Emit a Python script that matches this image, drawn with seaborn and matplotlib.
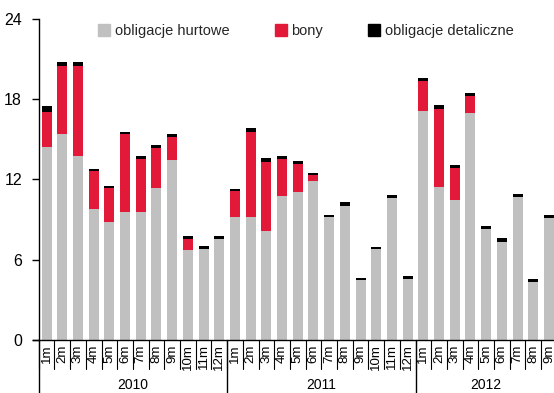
import matplotlib
matplotlib.use("Agg")
import matplotlib.pyplot as plt
import matplotlib.transforms as mtransforms
from matplotlib.lines import Line2D
import numpy as np
import pandas as pd
import seaborn as sns

# Monthly issuance of treasury securities, 2010-2012
years = ["2010", "2011", "2012"]
months_per_year = [12, 12, 9]
month_labels = [f"{m}m" for n in months_per_year for m in range(1, n + 1)]

hurtowe = [14.45, 15.40, 13.78, 9.80, 8.83, 9.57, 9.57, 11.37, 13.46, 6.76, 6.81, 7.56,
           9.20, 9.20, 8.16, 10.78, 11.07, 11.89, 9.20, 10.04, 4.50, 6.81, 10.62, 4.57,
           17.11, 11.45, 10.47, 16.96, 8.31, 7.34, 10.70, 4.35, 9.13]
bony = [2.59, 5.07, 6.69, 2.83, 2.54, 5.83, 3.96, 2.98, 1.71, 0.80, 0.00, 0.00,
        1.94, 6.34, 5.15, 2.75, 2.09, 0.45, 0.00, 0.00, 0.00, 0.00, 0.00, 0.00,
        2.24, 5.81, 2.39, 1.27, 0.00, 0.00, 0.00, 0.00, 0.00]
detaliczne = [0.44, 0.30, 0.30, 0.15, 0.15, 0.15, 0.25, 0.22, 0.23, 0.22, 0.23, 0.22,
              0.15, 0.30, 0.30, 0.25, 0.24, 0.15, 0.17, 0.28, 0.15, 0.15, 0.25, 0.23,
              0.22, 0.30, 0.22, 0.23, 0.22, 0.29, 0.22, 0.22, 0.24]

series_names = ["obligacje hurtowe", "bony", "obligacje detaliczne"]
colors = ["#C0C0C0", "#E3193A", "#000000"]

df = pd.DataFrame({
    "pos": list(range(len(month_labels))),
    "hurtowe": hurtowe,
    "bony": bony,
    "detaliczne": detaliczne,
})
df["level1"] = df["hurtowe"]
df["level2"] = df["hurtowe"] + df["bony"]
df["level3"] = df["level2"] + df["detaliczne"]

sns.set_theme(style="white")
plt.rcParams["font.family"] = ["Liberation Sans Narrow", "Liberation Sans", "DejaVu Sans"]

W, H = 554, 393
fig = plt.figure(figsize=(W / 100, H / 100), dpi=100)
slot = 15.7
left_px, zero_px, top_px = 38.7, 340.3, 18.6
ax = fig.add_axes([left_px / W, (H - zero_px) / H,
                   len(month_labels) * slot / W, (zero_px - top_px) / H])

order = list(range(len(month_labels)))
# stacked bars: draw cumulative totals from the top layer down
for col, c in [("level3", colors[2]), ("level2", colors[1]), ("level1", colors[0])]:
    sns.barplot(data=df, x="pos", y=col, order=order, color=c, width=0.64,
                saturation=1, ax=ax, linewidth=0, errorbar=None)

ax.set_xlim(-0.5, len(month_labels) - 0.5)
ax.set_ylim(0, 24)
ax.set_yticks([0, 6, 12, 18, 24])
ax.set_xlabel("")
ax.set_ylabel("")
ax.set_xticks(order)
ax.set_xticklabels(month_labels, rotation=90, fontsize=9.5, va="top")
ax.tick_params(axis="x", length=0, pad=3, colors="#000000")
ax.tick_params(axis="y", length=5, width=1, direction="out", labelsize=11.5,
               pad=7, colors="#000000", left=True)

for s in ["top", "right"]:
    ax.spines[s].set_visible(False)
for s in ["left", "bottom"]:
    ax.spines[s].set_color("#000000")
    ax.spines[s].set_linewidth(1)
ax.spines["bottom"].set_bounds(-0.5 - 5.5 / slot, len(month_labels) - 0.5)

trans = mtransforms.blended_transform_factory(ax.transData, ax.transAxes)
ax_h = zero_px - top_px
month_drop = 29 / ax_h
year_drop = (H - zero_px) / ax_h

# month separators
for i in range(len(month_labels) + 1):
    ax.plot([i - 0.5, i - 0.5], [0, -month_drop], transform=trans,
            color="#000000", lw=0.8, clip_on=False)

# year separators and labels
start = 0
for y, n in zip(years, months_per_year):
    ax.plot([start - 0.5, start - 0.5], [0, -year_drop], transform=trans,
            color="#000000", lw=1, clip_on=False)
    ax.text(start + n / 2 - 0.5, -(385 - zero_px) / ax_h, y, transform=trans,
            ha="center", va="center", fontsize=10, color="#000000")
    start += n

handles = [Line2D([], [], marker="s", linestyle="none", markersize=8,
                  markerfacecolor=c, markeredgecolor=c) for c in colors]
ax.legend(handles, series_names, loc="center", ncol=3, frameon=False,
          bbox_to_anchor=((306 - left_px) / (len(month_labels) * slot),
                          (zero_px - 31.5) / ax_h),
          fontsize=10.5, handlelength=0.8, handletextpad=0.35,
          columnspacing=3.1, borderaxespad=0)

fig.savefig("out.png", dpi=100)
